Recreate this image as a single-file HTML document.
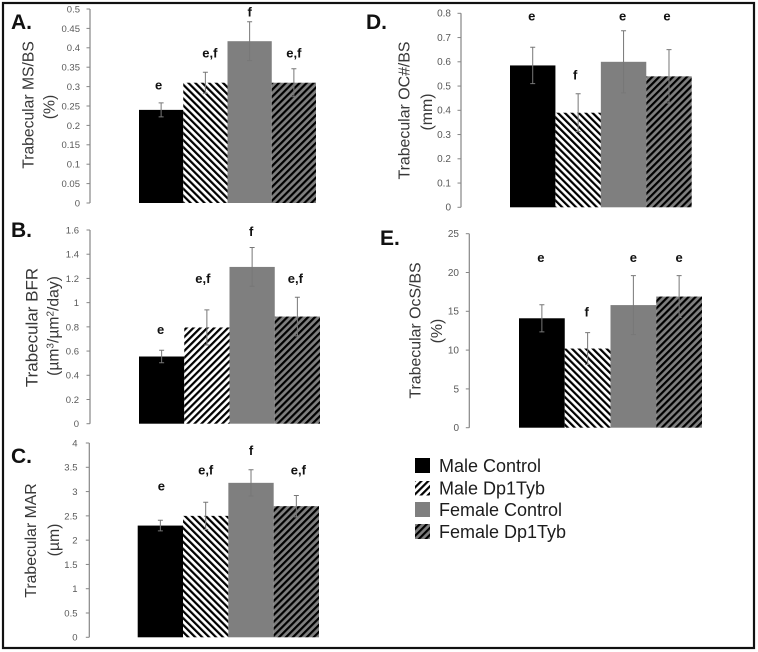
<!DOCTYPE html>
<html lang="en">
<head>
<meta charset="utf-8">
<title>Trabecular bone histomorphometry</title>
<style>
  html, body { margin: 0; padding: 0; background: #fff; }
  body { width: 758px; height: 652px; overflow: hidden; }
  svg { display: block; font-family: "Liberation Sans", Arial, sans-serif; filter: blur(0.35px); }
  .tick { fill: #595959; }
  .title { fill: #383838; }
  .sig { fill: #111; font-weight: bold; font-size: 13px; }
  .letter { fill: #111; font-weight: bold; font-size: 21px; }
  .legend-text { fill: #1c1c1c; font-size: 18px; }
</style>
</head>
<body>
<svg id="figure" xmlns="http://www.w3.org/2000/svg" width="758" height="652" viewBox="0 0 758 652">
  <defs>
    <pattern id="hatch-down-white" patternUnits="userSpaceOnUse" width="4.9" height="4.9" patternTransform="rotate(-45)">
      <rect width="4.9" height="4.9" fill="#fff"/><rect width="2.2" height="4.9" fill="#000"/>
    </pattern>
    <pattern id="hatch-up-white" patternUnits="userSpaceOnUse" width="4.9" height="4.9" patternTransform="rotate(45)">
      <rect width="4.9" height="4.9" fill="#fff"/><rect width="2.2" height="4.9" fill="#000"/>
    </pattern>
    <pattern id="hatch-up-gray" patternUnits="userSpaceOnUse" width="4.9" height="4.9" patternTransform="rotate(45)">
      <rect width="4.9" height="4.9" fill="#7f7f7f"/><rect width="2.2" height="4.9" fill="#000"/>
    </pattern>
  </defs>
  <rect x="0" y="0" width="758" height="652" fill="#fff"/>
  <rect x="3" y="3" width="751" height="645" fill="none" stroke="#111" stroke-width="2.2"/>

  <text class="letter" x="11" y="29">A.</text>
  <text class="letter" x="11" y="237">B.</text>
  <text class="letter" x="11" y="463">C.</text>
  <text class="letter" x="366" y="29">D.</text>
  <text class="letter" x="380" y="245">E.</text>

  <text class="title" font-size="15.7" text-anchor="middle" transform="translate(33.5 105) rotate(-90)">Trabecular MS/BS</text>
  <text class="title" font-size="15.7" text-anchor="middle" transform="translate(54.5 107) rotate(-90)">(%)</text>
  <text class="title" font-size="17" text-anchor="middle" transform="translate(37.5 327.5) rotate(-90)">Trabecular BFR</text>
  <text class="title" font-size="15.7" text-anchor="middle" transform="translate(58.5 326) rotate(-90)">(µm<tspan font-size="10" dy="-5">3</tspan><tspan dy="5">/µm</tspan><tspan font-size="10" dy="-5">2</tspan><tspan dy="5">/day)</tspan></text>
  <text class="title" font-size="15.8" text-anchor="middle" transform="translate(36 540.5) rotate(-90)">Trabecular MAR</text>
  <text class="title" font-size="15.8" text-anchor="middle" transform="translate(59 540) rotate(-90)">(µm)</text>
  <text class="title" font-size="15.9" text-anchor="middle" transform="translate(409.5 110.5) rotate(-90)">Trabecular OC#/BS</text>
  <text class="title" font-size="15.9" text-anchor="middle" transform="translate(432 112) rotate(-90)">(mm)</text>
  <text class="title" font-size="15.9" text-anchor="middle" transform="translate(420.5 330.5) rotate(-90)">Trabecular OcS/BS</text>
  <text class="title" font-size="15.9" text-anchor="middle" transform="translate(442 331) rotate(-90)">(%)</text>

  <g>
    <rect x="415" y="458" width="15" height="15" fill="#000"/>
    <text class="legend-text" x="439" y="472">Male Control</text>
    <rect x="415" y="481" width="15" height="14.5" fill="url(#hatch-up-white)"/>
    <text class="legend-text" x="439" y="494.5">Male Dp1Tyb</text>
    <rect x="415" y="502" width="15" height="15" fill="#7f7f7f"/>
    <text class="legend-text" x="439" y="516">Female Control</text>
    <rect x="415" y="524" width="15" height="15" fill="url(#hatch-up-gray)"/>
    <text class="legend-text" x="439" y="538">Female Dp1Tyb</text>
  </g>
  <g id="charts"></g>
</svg>
<script>
const categories = ['male-control', 'male-dp1tyb', 'female-control', 'female-dp1tyb'];

const panelATicks = ['0', '0.05', '0.1', '0.15', '0.2', '0.25', '0.3', '0.35', '0.4', '0.45', '0.5'];
const panelAMeans = [0.24, 0.31, 0.417, 0.31];
const panelAErrors = [0.018, 0.027, 0.05, 0.036];
const panelASig = ['e', 'e,f', 'f', 'e,f'];
const panelASigLevels = [0.302, 0.384, 0.49, 0.384];

const panelBTicks = ['0', '0.2', '0.4', '0.6', '0.8', '1', '1.2', '1.4', '1.6'];
const panelBMeans = [0.555, 0.795, 1.295, 0.885];
const panelBErrors = [0.052, 0.145, 0.16, 0.16];
const panelBSig = ['e', 'e,f', 'f', 'e,f'];
const panelBSigLevels = [0.769, 1.193, 1.579, 1.193];

const panelCTicks = ['0', '0.5', '1', '1.5', '2', '2.5', '3', '3.5', '4'];
const panelCMeans = [2.3, 2.5, 3.18, 2.7];
const panelCErrors = [0.11, 0.28, 0.27, 0.22];
const panelCSig = ['e', 'e,f', 'f', 'e,f'];
const panelCSigLevels = [3.09, 3.42, 3.82, 3.42];

const panelDTicks = ['0', '0.1', '0.2', '0.3', '0.4', '0.5', '0.6', '0.7', '0.8'];
const panelDMeans = [0.585, 0.39, 0.6, 0.54];
const panelDErrors = [0.075, 0.078, 0.128, 0.11];
const panelDSig = ['e', 'f', 'e', 'e'];
const panelDSigLevels = [0.785, 0.541, 0.785, 0.785];

const panelETicks = ['0', '5', '10', '15', '20', '25'];
const panelEMeans = [14.1, 10.2, 15.8, 16.9];
const panelEErrors = [1.75, 2.05, 3.8, 2.7];
const panelESig = ['e', 'f', 'e', 'e'];
const panelESigLevels = [21.8, 14.8, 21.8, 21.8];

const SVG_NS = 'http://www.w3.org/2000/svg';

function make(tag, attrs, parent, text) {
  const node = document.createElementNS(SVG_NS, tag);
  Object.keys(attrs).forEach(function (k) { node.setAttribute(k, attrs[k]); });
  if (text !== undefined) node.textContent = text;
  parent.appendChild(node);
  return node;
}

function drawPanel(id, box, ticks, means, errors, sig, sigLevels) {
  const root = document.getElementById('charts');
  const group = make('g', {}, root);
  
  

  const maxValue = parseFloat(ticks[ticks.length - 1]);
  const yScale = function (v) { return box.bottom - (v / maxValue) * (box.bottom - box.top); };
  const bandWidth = (box.barRight - box.barLeft) / categories.length;
  const xScale = function (i) { return box.barLeft + i * bandWidth; };
  const fills = ['#000', box.maleHatch, '#7f7f7f', 'url(#hatch-up-gray)'];

  const axis = make('line', { x1: box.axisX, x2: box.axisX, y1: box.top, y2: box.bottom, stroke: '#868686', 'stroke-width': 1.2 }, group);
  
  

  ticks.forEach(function (label) {
    const y = yScale(parseFloat(label));
    const mark = make('line', { x1: box.axisX - 3.5, x2: box.axisX, y1: y, y2: y, stroke: '#868686', 'stroke-width': 1 }, group);
    
    
    const tickText = make('text', { x: box.labelX, y: y + 3.4, 'text-anchor': 'end', 'font-size': box.tickSize, class: 'tick' }, group, label);
    
    
  });

  means.forEach(function (value, i) {
    const barTop = yScale(value);
    const bar = make('rect', { x: xScale(i), y: barTop, width: bandWidth, height: box.bottom - barTop, fill: fills[i] }, group);
    
    
  });

  means.forEach(function (value, i) {
    const cx = xScale(i) + bandWidth / 2;
    const hi = yScale(value + errors[i]);
    const lo = yScale(value - errors[i]);
    const err = make('path', {
      d: 'M' + cx + ' ' + lo + 'V' + hi + 'M' + (cx - 2.5) + ' ' + hi + 'H' + (cx + 2.5) + 'M' + (cx - 2.5) + ' ' + lo + 'H' + (cx + 2.5),
      fill: 'none', stroke: '#777', 'stroke-width': 1
    }, group);
    
    

    const label = make('text', {
      x: cx + box.sigNudge[i], y: yScale(sigLevels[i]) + 3.5, 'text-anchor': 'middle', class: 'sig'
    }, group, sig[i]);
    
    
  });
}

drawPanel('a', { axisX: 90, labelX: 80, top: 9, bottom: 203, barLeft: 139, barRight: 316, tickSize: 9.5, maleHatch: 'url(#hatch-down-white)', sigNudge: [-2.5, 4.5, 0, 0] },
  panelATicks, panelAMeans, panelAErrors, panelASig, panelASigLevels);
drawPanel('b', { axisX: 90, labelX: 79, top: 230, bottom: 423.7, barLeft: 139, barRight: 320, tickSize: 9.5, maleHatch: 'url(#hatch-up-white)', sigNudge: [-1, -4, -1, -2] },
  panelBTicks, panelBMeans, panelBErrors, panelBSig, panelBSigLevels);
drawPanel('c', { axisX: 89.3, labelX: 77.5, top: 443, bottom: 637.3, barLeft: 137.7, barRight: 319, tickSize: 9.5, maleHatch: 'url(#hatch-down-white)', sigNudge: [1, 0, 0, 2] },
  panelCTicks, panelCMeans, panelCErrors, panelCSig, panelCSigLevels);
drawPanel('d', { axisX: 461, labelX: 451, top: 13.3, bottom: 207.3, barLeft: 510, barRight: 691.7, tickSize: 10, maleHatch: 'url(#hatch-down-white)', sigNudge: [-1, -3, -1, -2] },
  panelDTicks, panelDMeans, panelDErrors, panelDSig, panelDSigLevels);
drawPanel('e', { axisX: 469.3, labelX: 459, top: 233.7, bottom: 427.7, barLeft: 519, barRight: 702, tickSize: 10, maleHatch: 'url(#hatch-down-white)', sigNudge: [-1, -1, 0, 0] },
  panelETicks, panelEMeans, panelEErrors, panelESig, panelESigLevels);
</script>
</body>
</html>
